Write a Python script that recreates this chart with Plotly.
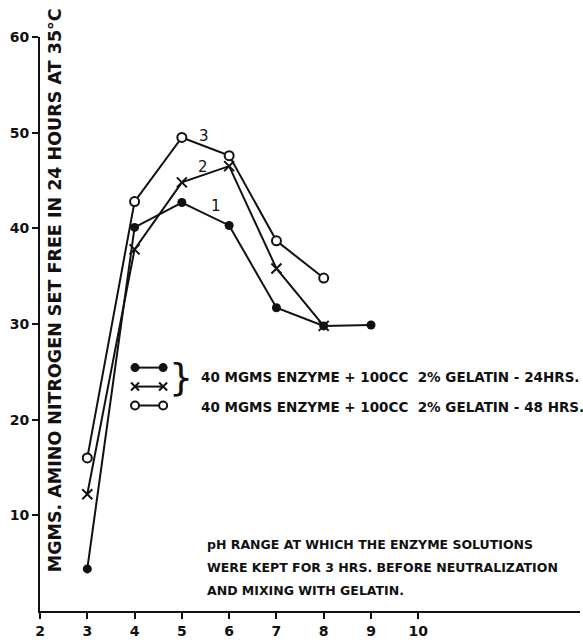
import plotly.graph_objects as go

# ---- data ----
ph_1 = [3, 4, 5, 6, 7, 8, 9]
curve_1 = [4.4, 40.1, 42.7, 40.3, 31.7, 29.8, 29.9]   # filled circles, 24 hrs
ph_2 = [3, 4, 5, 6, 7, 8]
curve_2 = [12.2, 37.8, 44.8, 46.5, 35.8, 29.8]       # crosses, 24 hrs
ph_3 = [3, 4, 5, 6, 7, 8]
curve_3 = [16.0, 42.8, 49.5, 47.6, 38.7, 34.8]       # open circles, 48 hrs

x_ticks = [2, 3, 4, 5, 6, 7, 8, 9, 10]
y_ticks = [10, 20, 30, 40, 50, 60]

curve_labels = ["1", "2", "3"]
curve_label_x = [5.73, 5.45, 5.47]
curve_label_y = [42.3, 46.4, 49.6]

legend_texts = ["40 MGMS ENZYME + 100CC  2% GELATIN - 24HRS.",
                "40 MGMS ENZYME + 100CC  2% GELATIN - 48 HRS."]
note_lines = ["pH RANGE AT WHICH THE ENZYME SOLUTIONS",
              "WERE KEPT FOR 3 HRS. BEFORE NEUTRALIZATION",
              "AND MIXING WITH GELATIN."]
y_title = "MGMS. AMINO NITROGEN SET FREE IN 24 HOURS AT 35°C"

FONT = "DejaVu Sans"
BLACK = "#111111"

fig = go.Figure()

fig.add_trace(go.Scatter(
    x=ph_1, y=curve_1, mode="lines+markers",
    line=dict(color=BLACK, width=2),
    marker=dict(symbol="circle", size=9, color=BLACK),
    showlegend=False, cliponaxis=False))
fig.add_trace(go.Scatter(
    x=ph_2, y=curve_2, mode="lines+markers",
    line=dict(color=BLACK, width=2),
    marker=dict(symbol="x-thin", size=10, line=dict(color=BLACK, width=2)),
    showlegend=False, cliponaxis=False))
fig.add_trace(go.Scatter(
    x=ph_3, y=curve_3, mode="lines+markers",
    line=dict(color=BLACK, width=2),
    marker=dict(symbol="circle", size=9, color="white", line=dict(color=BLACK, width=2)),
    showlegend=False, cliponaxis=False))

# ---- legend glyphs on an overlay axis (0..1 paper-like range) ----
leg_x = [0.176, 0.228]
leg_y = [0.424, 0.391, 0.358]
leg_styles = [
    dict(symbol="circle", size=9, color=BLACK),
    dict(symbol="x-thin", size=8, line=dict(color=BLACK, width=2)),
    dict(symbol="circle", size=8, color="white", line=dict(color=BLACK, width=2)),
]
for yy, ms in zip(leg_y, leg_styles):
    fig.add_trace(go.Scatter(
        x=leg_x, y=[yy, yy], mode="lines+markers", xaxis="x2", yaxis="y2",
        line=dict(color=BLACK, width=2), marker=ms, showlegend=False,
        cliponaxis=False))

ann = []
for t, xx, yy in zip(curve_labels, curve_label_x, curve_label_y):
    ann.append(dict(x=xx, y=yy, xref="x", yref="y", text=t, showarrow=False,
                    font=dict(family=FONT, size=15, color=BLACK),
                    xanchor="center", yanchor="middle"))
# brace
ann.append(dict(x=0.236, y=0.408, xref="paper", yref="paper", text="}",
                showarrow=False, font=dict(family=FONT, size=38, color=BLACK),
                xanchor="left", yanchor="middle"))
for t, yy in zip(legend_texts, [0.408, 0.356]):
    ann.append(dict(x=0.294, y=yy, xref="paper", yref="paper", text=t,
                    showarrow=False, font=dict(family=FONT, size=13.5, color=BLACK, weight="bold"),
                    xanchor="left", yanchor="middle"))
for t, yy in zip(note_lines, [0.116, 0.075, 0.035]):
    ann.append(dict(x=0.306, y=yy, xref="paper", yref="paper", text=t,
                    showarrow=False, font=dict(family=FONT, size=12.5, color=BLACK, weight="bold"),
                    xanchor="left", yanchor="middle"))
ann.append(dict(x=0.028, y=0.559, xref="paper", yref="paper", text=y_title,
                textangle=-90, showarrow=False,
                font=dict(family=FONT, size=17.5, color=BLACK, weight="bold"),
                xanchor="center", yanchor="middle"))

fig.update_layout(
    width=583, height=642,
    margin=dict(l=40, r=3, t=37, b=31, autoexpand=False),
    paper_bgcolor="white", plot_bgcolor="white",
    showlegend=False,
    annotations=ann,
    xaxis=dict(range=[2, 13.42], tickmode="array", tickvals=x_ticks,
               ticktext=[str(v) for v in x_ticks], automargin=False,
               showgrid=False, zeroline=False, showline=True, linecolor=BLACK,
               linewidth=2, ticks="outside", ticklen=6, tickwidth=2, tickcolor=BLACK,
               tickfont=dict(family=FONT, size=14, color=BLACK, weight="bold")),
    yaxis=dict(range=[0, 60], tickmode="array", tickvals=y_ticks,
               ticktext=[str(v) for v in y_ticks], automargin=False,
               showgrid=False, zeroline=False, showline=True, linecolor=BLACK,
               linewidth=2, ticks="outside", ticklen=6, tickwidth=2, tickcolor=BLACK,
               tickfont=dict(family=FONT, size=14, color=BLACK, weight="bold")),
    xaxis2=dict(overlaying="x", range=[0, 1], visible=False, fixedrange=True),
    yaxis2=dict(overlaying="y", range=[0, 1], visible=False, fixedrange=True),
)

fig.write_html("out.html", config={"displayModeBar": False},
               post_script="document.body.style.margin='0px';document.body.style.overflow='hidden';")
